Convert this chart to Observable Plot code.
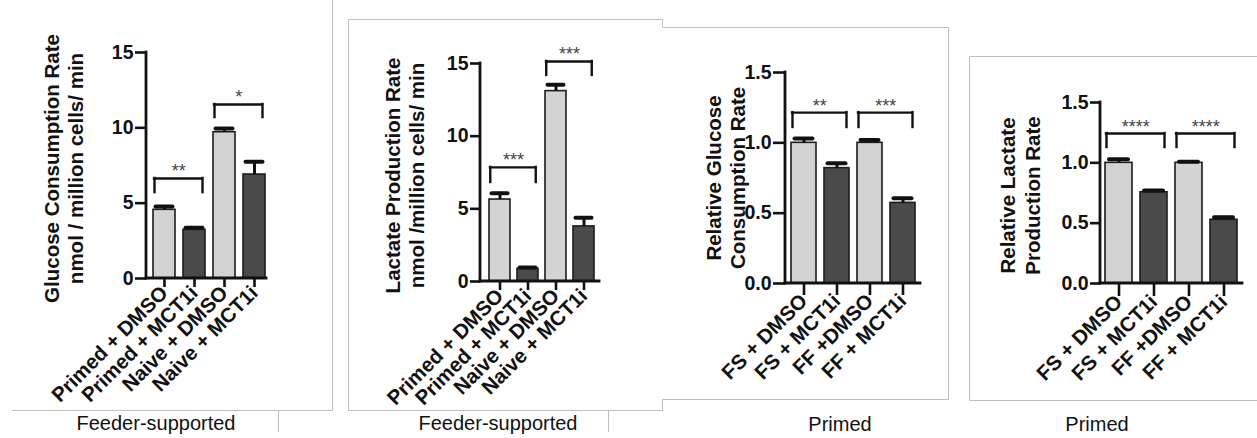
<!DOCTYPE html>
<html>
<head>
<meta charset="utf-8">
<script src="https://cdn.jsdelivr.net/npm/d3@7"></script>
<script src="https://cdn.jsdelivr.net/npm/@observablehq/plot@0.6"></script>
<style>
  html, body { margin: 0; padding: 0; background: #fff; }
  body { width: 1257px; height: 438px; position: relative; overflow: hidden; font-family: "Liberation Sans", Arial, sans-serif; }
  .panel { position: absolute; top: 0; }
  .cap { position: absolute; font-size: 20px; color: #111; transform: translate(-50%, -50%); white-space: nowrap; }
  #frames { position: absolute; left: 0; top: 0; pointer-events: none; z-index: 5; }
</style>
</head>
<body>
<div id="p1" class="panel" style="left:0px"></div>
<div id="p2" class="panel" style="left:340px"></div>
<div id="p3" class="panel" style="left:663px"></div>
<div id="p4" class="panel" style="left:969px"></div>
<div class="cap" style="left:156px; top:423px">Feeder-supported</div>
<div class="cap" style="left:498px; top:423px">Feeder-supported</div>
<div class="cap" style="left:840px; top:424px">Primed</div>
<div class="cap" style="left:1097px; top:424px">Primed</div>
<svg id="frames" width="1257" height="438">
  <g fill="none" stroke="#bfbfbf" stroke-width="1">
    <path d="M12,410.5 H332.5 V0"/>
    <path d="M278.5,410.5 V432"/>
    <path d="M348.5,410.5 V19.5 H662.5 V27.5 H948.5 V399.5 H662.5 V410.5 H348.5"/>
    <path d="M608.5,410.5 V432"/>
    <path d="M1257,56.5 H969.5 V400.5 H1257"/>
  </g>
</svg>
<script>
// ---- data ----
const feederConditions = ["Primed + DMSO", "Primed + MCT1i", "Naive + DMSO", "Naive + MCT1i"];
const primedConditions = ["FS + DMSO", "FS + MCT1i", "FF +DMSO", "FF + MCT1i"];
const treatments = ["DMSO", "MCT1i", "DMSO", "MCT1i"];

const glucoseMean = [4.56, 3.23, 9.71, 6.9];
const glucoseSem = [0.22, 0.14, 0.25, 0.85];
const lactateMean = [5.64, 0.87, 13.1, 3.79];
const lactateSem = [0.43, 0.1, 0.43, 0.6];
const relGlucoseMean = [1.0, 0.82, 1.0, 0.573];
const relGlucoseSem = [0.03, 0.035, 0.02, 0.033];
const relLactateMean = [1.0, 0.756, 1.0, 0.528];
const relLactateSem = [0.03, 0.015, 0.01, 0.02];

const ticksAbs = [0, 5, 10, 15];
const ticksRel = [0, 0.5, 1.0, 1.5];

const bracketPairs = [[0, 1], [2, 3]];
const glucoseBracketTop = [6.64, 11.55];
const glucoseBracketBottom = [5.7, 10.68];
const glucoseStars = ["**", "*"];
const lactateBracketTop = [7.85, 15.14];
const lactateBracketBottom = [6.81, 14.18];
const lactateStars = ["***", "***"];
const relGlucoseBracketTop = [1.215, 1.215];
const relGlucoseBracketBottom = [1.109, 1.109];
const relGlucoseStars = ["**", "***"];
const relLactateBracketTop = [1.243, 1.243];
const relLactateBracketBottom = [1.127, 1.127];
const relLactateStars = ["****", "****"];

const FONT = '"Liberation Sans", Arial, sans-serif';
const LIGHT = "#d3d3d3";
const DARK = "#4a4a4a";
const INK = "#111";

function makePanel(s) {
  const rows = s.cats.map((c, i) => ({cat: c, trt: treatments[i], mean: s.mean[i], hi: s.mean[i] + s.sem[i]}));
  const br = bracketPairs.map((p, i) => ({a: s.cats[p[0]], b: s.cats[p[1]], top: s.bTop[i], bottom: s.bBottom[i], label: s.stars[i]}));
  const step = (s.barEnd - s.barStart - s.bw) / 3;
  const pad = 1 - s.bw / step;
  const half = (step - s.bw) / 2;
  const axisLines = (index, scales, values, dims) => {
    const g = d3.create("svg:g").attr("stroke", INK).attr("stroke-width", 2.8).attr("stroke-linecap", "square");
    const y0 = scales.y(0), yt = scales.y(s.yDomain[1]);
    const xl = dims.marginLeft;
    g.append("line").attr("x1", xl).attr("x2", xl).attr("y1", y0).attr("y2", yt);
    g.append("line").attr("x1", xl).attr("x2", dims.width - dims.marginRight).attr("y1", y0).attr("y2", y0);
    return g.node();
  };
  return Plot.plot({
    width: s.W,
    height: 438,
    marginLeft: s.axisX - s.L,
    marginRight: s.L + s.W - s.xEnd,
    marginTop: s.yTop,
    marginBottom: 438 - s.y0,
    style: {fontFamily: FONT, background: "transparent", overflow: "visible"},
    x: {domain: s.cats, range: [s.barStart - s.L - half, s.barEnd - s.L + half], paddingInner: pad, paddingOuter: pad / 2, align: 0.5, label: null},
    y: {domain: s.yDomain, label: null},
    color: {domain: ["DMSO", "MCT1i"], range: [LIGHT, DARK]},
    marks: [
      Plot.barY(rows, {x: "cat", y: "mean", fill: "trt", stroke: "#1c1c1c", strokeWidth: 1.6}),
      Plot.ruleX(rows, {x: "cat", y1: "mean", y2: "hi", stroke: INK, strokeWidth: 3}),
      Plot.tickY(rows, {x: "cat", y: "hi", stroke: INK, strokeWidth: 4, strokeLinecap: "round", insetLeft: s.capInset, insetRight: s.capInset}),
      Plot.ruleY(br, {x1: "a", x2: "b", y: "top", stroke: INK, strokeWidth: 2.4, strokeLinecap: "square", insetLeft: 1, insetRight: 3}),
      Plot.ruleX(br, {x: "a", y1: "bottom", y2: "top", dx: -(s.bw / 2) + 1, stroke: INK, strokeWidth: 2.4, strokeLinecap: "square"}),
      Plot.ruleX(br, {x: "b", y1: "bottom", y2: "top", dx: s.bw / 2 - 3, stroke: INK, strokeWidth: 2.4, strokeLinecap: "square"}),
      Plot.text(br, {x: "a", y: "top", text: "label", dx: step / 2 - 1, dy: -1, lineAnchor: "bottom", fontSize: 18, fill: "#444"}),
      axisLines,
      Plot.axisY({ticks: s.ticks, tickFormat: s.fmt, tickSize: s.yTickSize, tickPadding: 2, fontSize: 19.5, fontWeight: "bold", stroke: INK, strokeWidth: 2.6, fill: INK, label: null}),
      Plot.axisX({tickRotate: -45, tickSize: s.xTickSize, tickPadding: 2, fontSize: 20.5, fontWeight: "bold", stroke: INK, strokeWidth: 2.6, fill: INK, label: null}),
      Plot.text([s.title], {frameAnchor: "left", dx: s.titleDx, dy: s.titleDy, rotate: -90, fontSize: 20.5, fontWeight: "bold", lineHeight: 1.2, textAnchor: "middle", fill: INK})
    ]
  });
}

const specs = [
  {id: "p1", L: 0, W: 330, axisX: 146, yTop: 52, y0: 278, barStart: 152, barEnd: 265, bw: 22, xEnd: 266,
   cats: feederConditions, mean: glucoseMean, sem: glucoseSem, yDomain: [0, 15], ticks: ticksAbs, fmt: d3.format("d"),
   bTop: glucoseBracketTop, bBottom: glucoseBracketBottom, stars: glucoseStars, capInset: 2.5,
   yTickSize: 11, xTickSize: 9, titleDx: -83.5, titleDy: 3, title: "Glucose Consumption Rate\nnmol / million cells/ min"},
  {id: "p2", L: 340, W: 320, axisX: 480, yTop: 63, y0: 281, barStart: 487, barEnd: 595, bw: 21.5, xEnd: 599,
   cats: feederConditions, mean: lactateMean, sem: lactateSem, yDomain: [0, 15], ticks: ticksAbs, fmt: d3.format("d"),
   bTop: lactateBracketTop, bBottom: lactateBracketBottom, stars: lactateStars, capInset: 2.5,
   yTickSize: 10, xTickSize: 9, titleDx: -76.5, titleDy: 3, title: "Lactate Production Rate\nnmol /million cells/ min"},
  {id: "p3", L: 663, W: 285, axisX: 785, yTop: 72, y0: 283, barStart: 790, barEnd: 915, bw: 25, xEnd: 920,
   cats: primedConditions, mean: relGlucoseMean, sem: relGlucoseSem, yDomain: [0, 1.5], ticks: ticksRel, fmt: d3.format(".1f"),
   bTop: relGlucoseBracketTop, bBottom: relGlucoseBracketBottom, stars: relGlucoseStars, capInset: 3.5,
   yTickSize: 12, xTickSize: 12, titleDx: -60.5, titleDy: 0, title: "Relative Glucose\nConsumption Rate"},
  {id: "p4", L: 969, W: 288, axisX: 1100, yTop: 102, y0: 283, barStart: 1104, barEnd: 1237, bw: 27, xEnd: 1242,
   cats: primedConditions, mean: relLactateMean, sem: relLactateSem, yDomain: [0, 1.5], ticks: ticksRel, fmt: d3.format(".1f"),
   bTop: relLactateBracketTop, bBottom: relLactateBracketBottom, stars: relLactateStars, capInset: 4,
   yTickSize: 10, xTickSize: 13, titleDx: -81, titleDy: 2.5, title: "Relative Lactate\nProduction Rate"}
];

for (const s of specs) {
  document.getElementById(s.id).appendChild(makePanel(s));
}
</script>
</body>
</html>
